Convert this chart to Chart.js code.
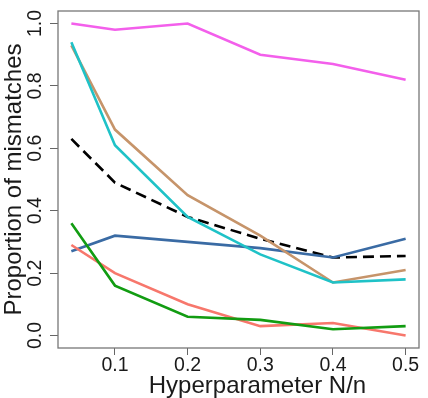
<!DOCTYPE html>
<html>
<head>
<meta charset="utf-8">
<script src="https://cdn.jsdelivr.net/npm/chart.js@4"></script>
<style>
  html, body { margin: 0; padding: 0; background: #fff; }
  #wrap { width: 428px; height: 398px; }
</style>
</head>
<body>
<div id="wrap"><canvas id="c" width="428" height="398"></canvas></div>
<script>
// ---- data ----
const xValues   = [0.04, 0.1, 0.2, 0.3, 0.4, 0.5];
const magenta   = [1.00, 0.98, 1.00, 0.90, 0.87, 0.82];
const green     = [0.36, 0.16, 0.06, 0.05, 0.02, 0.03];
const salmon    = [0.29, 0.20, 0.10, 0.03, 0.04, 0.00];
const blue      = [0.27, 0.32, 0.30, 0.28, 0.25, 0.31];
const cyan      = [0.94, 0.61, 0.38, 0.26, 0.17, 0.18];
const tan       = [0.93, 0.66, 0.45, 0.32, 0.17, 0.21];
const dashedAvg = [0.63, 0.49, 0.38, 0.31, 0.25, 0.255];
const xTicks    = [0.1, 0.2, 0.3, 0.4, 0.5];
const yTicks    = [0.0, 0.2, 0.4, 0.6, 0.8, 1.0];
const xTitle    = 'Hyperparameter N/n';
const yTitle    = 'Proportion of mismatches';

const FONT = '"Liberation Sans", Arial, sans-serif';
const pts = arr => arr.map((v, i) => ({ x: xValues[i], y: v }));
const ds = (data, color, dash) => ({
  data: pts(data), borderColor: color, backgroundColor: color,
  borderWidth: 2.6, pointRadius: 0, tension: 0, fill: false,
  borderDash: dash || [], borderCapStyle: 'butt', borderJoinStyle: 'miter'
});

const framePlugin = {
  id: 'frame',
  beforeDatasetsDraw(chart) {
    const { ctx, chartArea: a } = chart;
    ctx.save();
    ctx.strokeStyle = '#777';
    ctx.lineWidth = 1.3;
    ctx.strokeRect(a.left, a.top, a.right - a.left, a.bottom - a.top);
    ctx.restore();
  },
  afterDraw(chart) {
    const { ctx } = chart;
    const ys = chart.scales.y;
    ctx.save();
    ctx.fillStyle = '#1a1a1a';
    ctx.font = '19.5px ' + FONT;
    ctx.textAlign = 'center';
    ctx.textBaseline = 'middle';
    yTicks.forEach(v => {
      const py = ys.getPixelForValue(v);
      ctx.save();
      ctx.translate(36, py);
      ctx.rotate(-Math.PI / 2);
      ctx.fillText(v.toFixed(1), 0, 0);
      ctx.restore();
    });
    // x-axis title (offset to the right as in the reference)
    ctx.font = '24px ' + FONT;
    ctx.textBaseline = 'alphabetic';
    ctx.fillText(xTitle, 257.5, 393);
    ctx.restore();
  }
};

new Chart(document.getElementById('c'), {
  type: 'line',
  data: {
    datasets: [
      ds(magenta, '#F35FEB'),
      ds(green, '#129C12'),
      ds(salmon, '#F7776C'),
      ds(cyan, '#1FC2C7'),
      ds(tan, '#C6946A'),
      ds(blue, '#3A6BA4'),
      ds(dashedAvg, '#000000', [11, 6])
    ]
  },
  options: {
    responsive: false,
    animation: false,
    devicePixelRatio: 1,
    layout: { padding: { top: 11, right: 9, left: 0, bottom: 0 } },
    plugins: { legend: { display: false }, tooltip: { enabled: false } },
    scales: {
      x: {
        type: 'linear',
        min: 0.0216, max: 0.5184,
        afterBuildTicks: s => { s.ticks = xTicks.map(v => ({ value: v })); },
        afterFit: s => { s.height = 50; },
        border: { display: false },
        grid: { drawOnChartArea: false, drawTicks: true, tickLength: 7, color: '#666', lineWidth: 1 },
        ticks: {
          color: '#1a1a1a', font: { family: FONT, size: 19.5 }, padding: -1,
          maxRotation: 0, minRotation: 0,
          callback: v => v.toFixed(1)
        },
        title: { display: false }
      },
      y: {
        type: 'linear',
        min: -0.04, max: 1.04,
        afterBuildTicks: s => { s.ticks = yTicks.map(v => ({ value: v })); },
        afterFit: s => { s.width = 58; },
        border: { display: false },
        grid: { drawOnChartArea: false, drawTicks: true, tickLength: 8, color: '#666', lineWidth: 1 },
        ticks: { display: false },
        title: {
          display: true, text: yTitle, color: '#1a1a1a',
          font: { family: FONT, size: 24 }, padding: { top: 0, bottom: 0 }
        }
      }
    }
  },
  plugins: [framePlugin]
});
</script>
</body>
</html>
